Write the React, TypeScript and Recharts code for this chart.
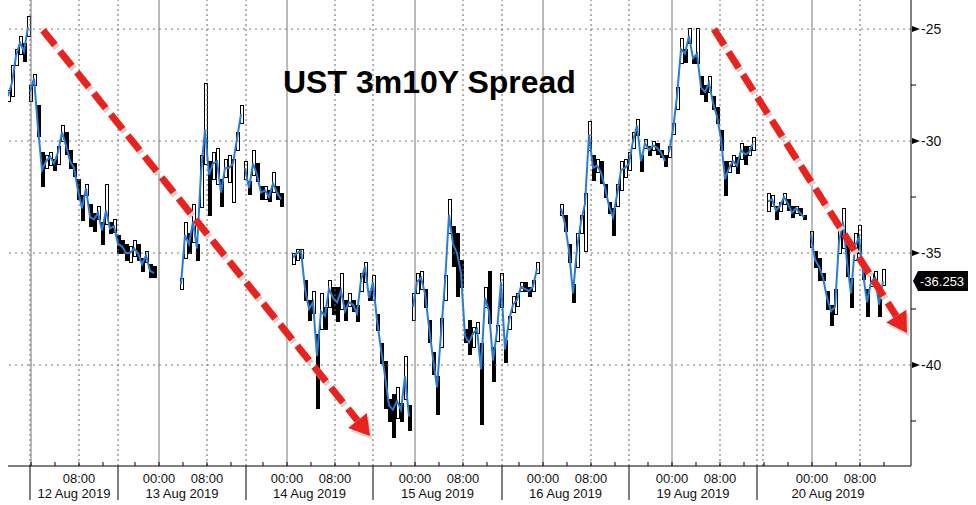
import { Bar, ComposedChart, Line, ReferenceDot, ReferenceLine, XAxis, YAxis } from "recharts";

// trading clock in minutes, one bar every 40 minutes
const STEP = 40;
const X_MAX = 9030;
const Y_MIN = -44.51;
const Y_MAX = -23.7;

// sessions: date label, session open, midnight
const dayLabels = ["12 Aug 2019", "13 Aug 2019", "14 Aug 2019", "15 Aug 2019", "16 Aug 2019", "19 Aug 2019", "20 Aug 2019"];
const sessionOpens = [220, 1100, 2380, 3650, 4940, 6210, 7490];
const sessionEnd = 8910;
const midnights = [230, 1510, 2790, 4070, 5350, 6640, 8040];
const extraBreaks = [7550];

const majorY = [-40, -35, -30, -25];
const minorY = [-42.5, -37.5, -32.5, -27.5];

const LAST = -36.253;

// where each run of bars starts on the trading clock
const runStarts = [0, 220, 1730, 2370, 2850, 4050, 5530, 6610, 7600, 8030];

// [close, low, high]
const friTail = [
  [-28.0, -28.2, -27.7], [-27.4, -28.0, -26.6], [-26.2, -26.6, -25.9], [-25.6, -26.1, -25.3], [-26.0, -26.4, -25.6], [-24.9, -25.3, -24.4],
];
const mon12 = [
  [-27.8, -28.2, -27.5], [-27.2, -27.5, -27.0], [-29.4, -29.8, -28.4], [-31.3, -32.0, -30.5], [-30.9, -31.2, -30.6], [-30.7, -31.1, -30.5],
  [-31.0, -31.3, -30.8], [-30.5, -31.0, -30.2], [-29.6, -30.0, -29.3], [-30.2, -30.6, -29.6], [-30.9, -31.2, -30.4], [-31.2, -31.6, -31.0],
  [-32.2, -32.6, -31.7], [-33.0, -33.5, -32.4], [-32.1, -32.4, -31.9], [-33.4, -33.8, -32.8], [-33.5, -34.0, -33.2], [-33.2, -33.5, -32.9],
  [-34.0, -34.6, -33.6], [-33.1, -33.7, -31.9], [-33.9, -34.1, -33.6], [-33.8, -34.1, -33.5], [-34.6, -35.0, -34.2], [-34.7, -35.0, -34.4],
  [-35.0, -35.3, -34.6], [-35.0, -35.4, -34.7], [-34.8, -35.1, -34.4], [-35.0, -35.3, -34.6], [-35.5, -35.8, -35.2], [-35.1, -35.4, -34.9],
  [-35.8, -36.1, -35.5], [-35.9, -36.1, -35.6],
];
const tue13 = [
  [-36.4, -36.6, -36.1], [-34.2, -35.2, -33.6], [-34.6, -35.0, -34.1], [-33.6, -34.5, -32.8], [-34.8, -35.3, -34.6], [-31.4, -32.9, -30.6],
  [-29.5, -31.0, -27.4], [-31.5, -33.3, -30.9], [-31.0, -31.7, -30.5], [-30.9, -31.9, -30.3], [-32.3, -32.9, -31.7], [-31.2, -31.6, -30.8],
  [-31.2, -31.8, -30.6], [-31.0, -32.7, -30.8], [-29.9, -30.4, -29.6], [-28.8, -29.2, -28.4],
];
const wed14a = [
  [-31.2, -31.7, -30.9], [-32.1, -32.4, -31.8], [-31.0, -31.5, -30.4], [-31.5, -31.8, -31.0], [-32.3, -32.6, -32.0], [-32.2, -32.6, -32.0],
  [-32.5, -32.7, -32.2], [-31.9, -32.3, -31.4], [-32.3, -32.6, -32.0], [-32.6, -32.9, -32.3],
];
const wed14b = [
  [-35.2, -35.5, -35.0], [-35.0, -35.3, -34.8], [-34.9, -35.2, -34.8], [-36.6, -37.1, -36.2], [-37.5, -38.0, -37.1], [-37.2, -37.7, -36.7],
  [-39.6, -41.9, -38.6], [-37.6, -38.4, -36.8], [-37.8, -38.4, -37.4], [-36.6, -37.4, -36.2], [-37.0, -37.7, -36.5], [-37.2, -38.0, -36.5],
  [-36.7, -37.5, -35.9], [-37.6, -38.0, -37.1], [-37.2, -37.4, -36.8], [-37.3, -37.6, -37.1], [-37.7, -38.0, -37.3], [-36.2, -36.7, -35.9],
  [-35.6, -36.3, -35.4], [-37.0, -37.1, -36.7], [-36.3, -37.1, -36.0], [-38.0, -38.4, -37.7], [-39.3, -39.9, -39.0], [-40.5, -41.9, -39.8],
  [-41.8, -42.5, -41.5], [-42.0, -43.2, -41.3], [-41.6, -42.4, -41.0], [-42.0, -42.5, -41.7], [-40.5, -41.5, -39.6], [-42.3, -42.9, -41.8],
];
const thu15 = [
  [-37.4, -38.0, -36.8], [-36.3, -36.8, -35.9], [-36.1, -36.6, -35.8], [-36.8, -37.4, -36.6], [-38.3, -39.0, -38.0], [-39.7, -40.4, -39.4],
  [-41.0, -42.2, -40.5], [-38.6, -39.2, -37.9], [-36.3, -37.1, -36.0], [-33.3, -34.1, -32.6], [-34.6, -35.6, -33.8], [-35.0, -36.9, -34.1],
  [-35.9, -36.5, -35.3], [-38.7, -39.0, -38.4], [-39.0, -39.5, -38.0], [-38.6, -39.2, -38.3], [-38.4, -38.6, -38.1], [-40.2, -42.6, -39.0],
  [-37.0, -37.4, -36.5], [-37.6, -38.1, -35.8], [-39.8, -40.7, -39.2], [-38.5, -38.9, -38.2], [-36.3, -37.4, -35.9], [-39.3, -39.9, -38.9],
  [-38.0, -38.4, -37.8], [-37.3, -37.6, -36.9], [-37.1, -37.4, -36.8], [-36.5, -36.7, -36.3], [-36.6, -36.7, -36.3], [-36.7, -36.9, -36.5],
  [-36.5, -36.7, -36.2], [-35.7, -35.9, -35.4],
];
const fri16 = [
  [-33.0, -33.3, -32.8], [-33.7, -34.0, -33.3], [-34.9, -35.4, -34.6], [-36.8, -37.2, -36.4], [-34.8, -35.6, -34.1], [-33.6, -34.1, -33.3],
  [-32.8, -34.9, -32.3], [-29.7, -30.4, -29.1], [-31.2, -31.7, -30.6], [-31.1, -31.4, -30.8], [-31.4, -31.9, -30.9], [-32.1, -32.5, -31.9],
  [-32.9, -33.2, -32.7], [-33.4, -34.2, -33.0], [-32.4, -32.9, -31.9], [-31.3, -32.2, -30.9], [-31.2, -31.6, -30.8], [-31.0, -31.3, -30.5],
  [-30.0, -30.3, -29.6], [-29.3, -29.7, -29.0], [-30.9, -31.3, -30.6], [-30.1, -30.3, -29.9], [-30.4, -30.6, -30.2], [-30.2, -30.4, -30.0],
  [-30.3, -30.6, -30.1], [-30.5, -30.7, -30.4], [-30.9, -31.1, -30.6],
];
const mon19 = [
  [-30.5, -30.7, -30.2], [-29.5, -29.7, -29.2], [-28.0, -28.6, -27.6], [-25.9, -26.5, -25.4], [-26.1, -26.5, -25.9], [-25.3, -25.6, -24.95],
  [-26.3, -26.5, -26.2], [-26.1, -26.5, -24.95], [-27.6, -27.9, -27.1], [-27.8, -28.2, -27.5], [-27.4, -27.8, -27.1], [-28.3, -28.6, -28.0],
  [-28.9, -29.2, -28.5], [-29.9, -30.4, -29.5], [-31.7, -32.4, -30.9], [-31.2, -31.4, -30.9], [-30.9, -31.1, -30.6], [-31.1, -31.4, -30.7],
  [-30.4, -30.8, -30.1], [-30.6, -31.0, -30.2], [-30.5, -30.6, -30.2], [-30.1, -30.4, -29.8],
];
const tue20a = [
  [-32.7, -33.1, -32.3], [-32.6, -32.9, -32.4], [-33.1, -33.5, -32.9], [-32.9, -33.1, -32.7], [-32.5, -32.8, -32.3], [-32.8, -33.1, -32.6],
  [-33.2, -33.4, -32.9], [-33.0, -33.2, -32.9], [-33.2, -33.3, -33.0], [-33.4, -33.5, -33.3],
];
const tue20b = [
  [-34.2, -34.7, -34.0], [-35.3, -35.6, -34.9], [-35.6, -36.2, -35.2], [-36.1, -36.2, -35.9], [-37.0, -37.5, -36.7], [-37.6, -38.2, -37.3],
  [-37.4, -37.7, -36.6], [-34.5, -35.0, -33.9], [-33.6, -34.8, -33.0], [-35.4, -36.0, -34.4], [-36.8, -37.4, -36.1], [-34.7, -35.3, -34.1],
  [-34.3, -35.0, -33.75], [-35.9, -36.2, -35.6], [-37.2, -37.8, -36.6], [-36.3, -36.5, -35.9], [-36.1, -36.5, -35.8], [-37.3, -37.8, -36.6],
  [-36.25, -36.4, -35.7],
];

const runs = [friTail, mon12, tue13, wed14a, wed14b, thu15, fri16, mon19, tue20a, tue20b];

// red trend arrows, [clock, value]
const arrowFrom = [[350, -25.05], [7060, -25.0]];
const arrowTo = [[3620, -43.17], [8990, -38.57]];

type Row = { t: number; close: number | null; range: [number, number] | null; down?: boolean };
const rows: Row[] = [];
runs.forEach((run, r) => {
  if (r > 0) rows.push({ t: runStarts[r] - STEP / 2, close: null, range: null });
  run.forEach(([c, lo, hi], i) => rows.push({
    t: runStarts[r] + i * STEP,
    close: c,
    range: [lo, hi],
    down: i > 0 && c < run[i - 1][0],
  }));
});

type TickKind = { kind: "minor" | "time" | "sep" | "date"; label?: string };
const tickInfo = new Map<number, TickKind>();
sessionOpens.forEach((open, i) => {
  const close = sessionOpens[i + 1] ?? sessionEnd;
  const mid = midnights[i];
  for (let k = Math.ceil((open - mid) / 240); mid + k * 240 < close; k++) {
    const t = mid + k * 240;
    if (k === 0 && i > 0) tickInfo.set(t, { kind: "time", label: "00:00" });
    else if (k === 2) tickInfo.set(t, { kind: "time", label: "08:00" });
    else tickInfo.set(t, { kind: "minor" });
  }
  tickInfo.set(open, { kind: "sep" });
  tickInfo.set((open + close) / 2, { kind: "date", label: dayLabels[i] });
});
const xTicks = [...tickInfo.keys()].sort((a, b) => a - b);

const eightAm = midnights.map((m) => m + 480);
const FONT = "'Liberation Sans', Arial, sans-serif";

function XTick({ x, y, payload }: any) {
  const info = tickInfo.get(payload.value);
  if (!info) return null;
  if (info.kind === "sep") return <line x1={x} x2={x} y1={y} y2={y + 34} stroke="#000" />;
  if (info.kind === "date") {
    return <text x={x} y={y + 32} textAnchor="middle" fontSize={13} fontFamily={FONT} fill="#111">{info.label}</text>;
  }
  return (
    <g>
      <line x1={x} x2={x} y1={y - 4} y2={y} stroke="#000" />
      {info.label && <text x={x} y={y + 17} textAnchor="middle" fontSize={13} fontFamily={FONT} fill="#111">{info.label}</text>}
    </g>
  );
}

function YTick({ x, y, payload }: any) {
  if (majorY.includes(payload.value)) {
    return (
      <g>
        <polygon points={`${x + 1},${y - 3} ${x + 9},${y} ${x + 1},${y + 3}`} fill="#000" />
        <text x={x + 10} y={y} dy="0.35em" fontSize={14} fontFamily={FONT} fill="#111">{payload.value}</text>
      </g>
    );
  }
  return <line x1={x} x2={x + 5} y1={y} y2={y} stroke="#000" />;
}

function Candle({ x, y, width, height, payload }: any) {
  if (x == null || height == null) return null;
  const top = height < 0 ? y + height : y;
  return (
    <rect x={Math.round(x) + 0.5} y={Math.round(top) + 0.5} width={3} height={Math.max(Math.round(Math.abs(height)), 2)}
      fill={payload?.down ? "#000" : "#fff"} stroke="#000" strokeWidth={1} />
  );
}

function Arrow({ x1, y1, x2, y2 }: any) {
  const ang = Math.atan2(y2 - y1, x2 - x1);
  const head = 20;
  const half = 12;
  const bx = x2 - head * Math.cos(ang);
  const by = y2 - head * Math.sin(ang);
  const nx = -Math.sin(ang) * half;
  const ny = Math.cos(ang) * half;
  const head1 = `${x2},${y2} ${bx + nx},${by + ny} ${bx - nx},${by - ny}`;
  const head2 = `${x2 + 2},${y2 + 3} ${bx + nx + 2},${by + ny + 3} ${bx - nx + 2},${by - ny + 3}`;
  return (
    <g>
      <line x1={x1 + 2} y1={y1 + 3} x2={bx + 2} y2={by + 3} stroke="#d8d0d0" strokeWidth={7} strokeDasharray="19 8" />
      <polygon points={head2} fill="#d8d0d0" />
      <line x1={x1} y1={y1} x2={bx} y2={by} stroke="#e8231e" strokeWidth={7} strokeDasharray="19 8" />
      <polygon points={head1} fill="#e8231e" />
    </g>
  );
}

function LastBadge({ cx, cy }: any) {
  return (
    <g>
      <polygon points={`${cx + 2},${cy} ${cx + 7},${cy - 10} ${cx + 57},${cy - 10} ${cx + 57},${cy + 10} ${cx + 7},${cy + 10}`} fill="#000" />
      <text x={cx + 9} y={cy} dy="0.36em" fontSize={13} fontFamily={FONT} fill="#fff">{LAST.toFixed(3)}</text>
    </g>
  );
}

export default function App() {
  return (
    <div style={{ position: "absolute", left: 0, top: 0, width: 976, height: 505, background: "#fff" }}>
      <ComposedChart width={976} height={505} data={rows} margin={{ top: 0, right: 0, bottom: 0, left: 8 }}>
        <XAxis dataKey="t" type="number" domain={[0, X_MAX]} ticks={xTicks} interval={0} tick={<XTick />} tickLine={false} tickSize={0} tickMargin={0} height={39} axisLine={{ stroke: "#000" }} allowDataOverflow />
        <YAxis orientation="right" type="number" domain={[Y_MIN, Y_MAX]} ticks={[...minorY, ...majorY].sort((a, b) => a - b)} interval={0} tick={<YTick />} tickLine={false} tickSize={0} tickMargin={0} width={65} axisLine={{ stroke: "#000" }} allowDataOverflow />
        {majorY.map((v) => <ReferenceLine key={`h${v}`} y={v} stroke="#777" strokeDasharray="2 4" />)}
        {[...sessionOpens, ...extraBreaks, ...eightAm].map((t) => <ReferenceLine key={`d${t}`} x={t} stroke="#666" strokeDasharray="2 3" />)}
        {midnights.map((t) => <ReferenceLine key={`m${t}`} x={t} stroke="#777" />)}
        <Bar dataKey="range" barSize={3} shape={<Candle />} isAnimationActive={false} />
        <Line dataKey="close" type="linear" stroke="#2b7bd3" strokeWidth={2} dot={false} connectNulls={false} isAnimationActive={false} />
        {arrowFrom.map((from, i) => (
          <ReferenceLine key={`a${i}`} segment={[{ x: from[0], y: from[1] }, { x: arrowTo[i][0], y: arrowTo[i][1] }]} ifOverflow="visible" shape={Arrow} />
        ))}
        <ReferenceDot x={X_MAX} y={LAST} r={0} ifOverflow="visible" shape={LastBadge} />
      </ComposedChart>
      <div style={{ position: "absolute", left: 283, top: 66, fontFamily: FONT, fontWeight: 700, fontSize: 32, lineHeight: "32px", color: "#000", whiteSpace: "nowrap" }}>
        UST 3m10Y Spread
      </div>
    </div>
  );
}
